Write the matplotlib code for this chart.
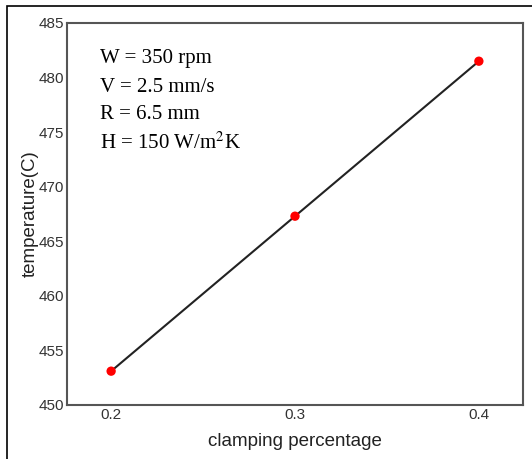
import matplotlib
matplotlib.use("Agg")
import matplotlib.pyplot as plt
from matplotlib.patches import Rectangle

clamping = [0.2, 0.3, 0.4]
temperature = [453.1, 467.3, 481.5]
xticks = [0.2, 0.3, 0.4]
yticks = [450, 455, 460, 465, 470, 475, 480, 485]
info_lines = ["W = 350 rpm", "V = 2.5 mm/s", "R = 6.5 mm", "H = 150 W/m$^2$K"]

W, H = 532, 459
fig = plt.figure(figsize=(W/100, H/100), dpi=100)
fig.patches.append(Rectangle((7/W, -0.1), 1.2, 1 - 6/H + 0.1, transform=fig.transFigure,
                             fill=False, edgecolor="black", linewidth=1.2))
ax = fig.add_axes([67/W, 1 - 405/H, (523-67)/W, (405-23)/H])
ax.plot(clamping, temperature, color="#222222", linewidth=1.5, zorder=2)
ax.scatter(clamping, temperature, color="red", s=45, zorder=3, edgecolors="none")
ax.set_xlim(0.176, 0.424)
ax.set_ylim(450, 485)
ax.set_xticks(xticks)
ax.set_xticklabels([str(v) for v in xticks])
ax.set_yticks(yticks)
ax.tick_params(axis="y", length=0, labelsize=11, labelcolor="#333333", pad=2)
ax.tick_params(axis="x", length=0, labelsize=11, labelcolor="#333333", pad=2)
for lab in ax.get_xticklabels() + ax.get_yticklabels():
    lab.set_family("Liberation Sans")
for s in ax.spines.values():
    s.set_color("#555555")
    s.set_linewidth(1.5)
ax.set_xlabel("clamping percentage", family="Liberation Sans", fontsize=13.5, color="#222222", labelpad=8)
ax.set_ylabel("temperature(C)", family="Liberation Sans", fontsize=13.5, color="#222222", labelpad=0)
for i, t in enumerate(info_lines):
    ax.text(100/W, 1 - (59 + i*28)/H, t, transform=fig.transFigure, family="Liberation Serif",
            fontsize=15, va="center", ha="left", color="black",
            math_fontfamily="stix")
fig.savefig("out.png", dpi=100)
